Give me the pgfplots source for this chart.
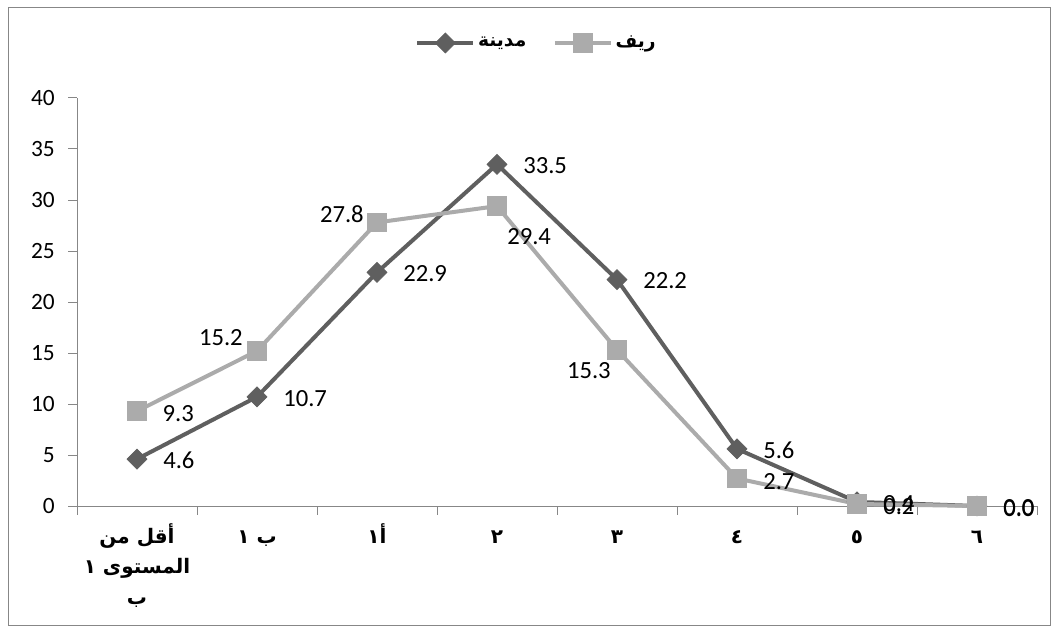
\documentclass[border=0pt]{standalone}
\usepackage{fontspec}
\setmainfont{Carlito}
\newfontfamily\arabicfont[Script=Arabic]{DejaVu Sans}
\TeXXeTstate=1
\usepackage{pgfplots}
\pgfplotsset{compat=1.18}
\usepackage{pgfplotstable}

\definecolor{madina}{HTML}{5F5F5F}
\definecolor{rif}{HTML}{ABABAB}
\definecolor{axgray}{HTML}{878787}

% same height for every category label (tall alef with hamza)
\newcommand\hs{\vphantom{أ}}

\pgfplotstableread{
x y lab
0 4.6 4.6
1 10.7 10.7
2 22.9 22.9
3 33.5 33.5
4 22.2 22.2
5 5.6 5.6
6 0.4 0.4
7 0.0 0.0
}\madinadata

\pgfplotstableread{
x y lab
0 9.3 9.3
1 15.2 15.2
2 27.8 27.8
3 29.4 29.4
4 15.3 15.3
5 2.7 2.7
6 0.2 0.2
7 0.0 0.0
}\rifdata

% data labels: anchor, xshift, yshift
\pgfplotsset{
  labelat/.style n args={3}{
    draw=none, mark=none, forget plot,
    nodes near coords={\pgfplotspointmeta},
    point meta=explicit symbolic,
    every node near coord/.append style={font=\fontsize{18.5}{20}\selectfont, text=black,
      inner sep=0pt, anchor=#1, xshift=#2, yshift=#3},
  }
}

\begin{document}
\begin{tikzpicture}
\useasboundingbox (0,0) rectangle (793.5pt,474.75pt);
\draw[axgray, line width=0.75pt] (6pt,6pt) rectangle (787.5pt,468.75pt);
\begin{axis}[
  at={(57.75pt,95.25pt)}, anchor=south west,
  scale only axis, width=720pt, height=306pt,
  xmin=-0.5, xmax=7.5, ymin=0, ymax=40,
  axis lines*=left,
  axis line style={axgray, line width=0.75pt},
  tick style={axgray, line width=0.75pt},
  tick align=outside, major tick length=6.5pt,
  xtick={-0.5,0.5,...,7.5},
  x tick label as interval,
  xticklabels={
    {\beginR أقل من\endR\\\beginR المستوى ١\endR\\\beginR ب\endR},
    {\hs\beginR ب ١\endR},
    {\hs\beginR أ١\endR},
    {\hs\beginR ٢\endR},
    {\hs\beginR ٣\endR},
    {\hs\beginR ٤\endR},
    {\hs\beginR ٥\endR},
    {\hs\beginR ٦\endR}},
  xticklabel style={font=\arabicfont\bfseries\fontsize{15}{23}\selectfont, align=center, yshift=-3pt},
  ytick={0,5,...,40},
  yticklabel style={font=\fontsize{17.5}{17.5}\selectfont, inner sep=0pt, xshift=-10pt},
  /pgf/number format/assume math mode=true,
  clip=false,
  legend columns=2,
  legend style={at={(0.479,1.135)}, anchor=center, draw=none, fill=none,
    font=\arabicfont\bfseries\fontsize{14}{15}\selectfont,
    /tikz/every even column/.append style={column sep=18pt}},
  legend image code/.code={\draw[mark repeat=2,mark phase=2] plot coordinates {(0pt,0pt) (21pt,0pt) (42pt,0pt)};},
]
\addplot[madina, line width=3pt, mark=square*, mark size=5.3pt,
  mark options={rotate=45, solid, line width=0.5pt, fill=madina}]
  table[x=x, y=y] {\madinadata};
\addlegendentry{\beginR مدينة\endR}
\addplot[rif, line width=3pt, mark=square*, mark size=7pt,
  mark options={solid, line width=0.5pt, fill=rif}]
  table[x=x, y=y] {\rifdata};
\addlegendentry{\beginR ريف\endR}
% labels
\addplot[labelat={west}{19.5pt}{-1pt}] table[x=x, y=y, meta=lab] {\madinadata};
\addplot[labelat={west}{19pt}{-1.5pt}, restrict x to domain=0:0] table[x=x, y=y, meta=lab] {\rifdata};
\addplot[labelat={east}{-10.5pt}{9.75pt}, restrict x to domain=1:1] table[x=x, y=y, meta=lab] {\rifdata};
\addplot[labelat={east}{-9.75pt}{6pt}, restrict x to domain=2:2] table[x=x, y=y, meta=lab] {\rifdata};
\addplot[labelat={west}{7.5pt}{-22.5pt}, restrict x to domain=3:3] table[x=x, y=y, meta=lab] {\rifdata};
\addplot[labelat={east}{-4.5pt}{-15.75pt}, restrict x to domain=4:4] table[x=x, y=y, meta=lab] {\rifdata};
\addplot[labelat={west}{19.5pt}{-2pt}, restrict x to domain=5:7] table[x=x, y=y, meta=lab] {\rifdata};
\end{axis}
\end{tikzpicture}
\end{document}
